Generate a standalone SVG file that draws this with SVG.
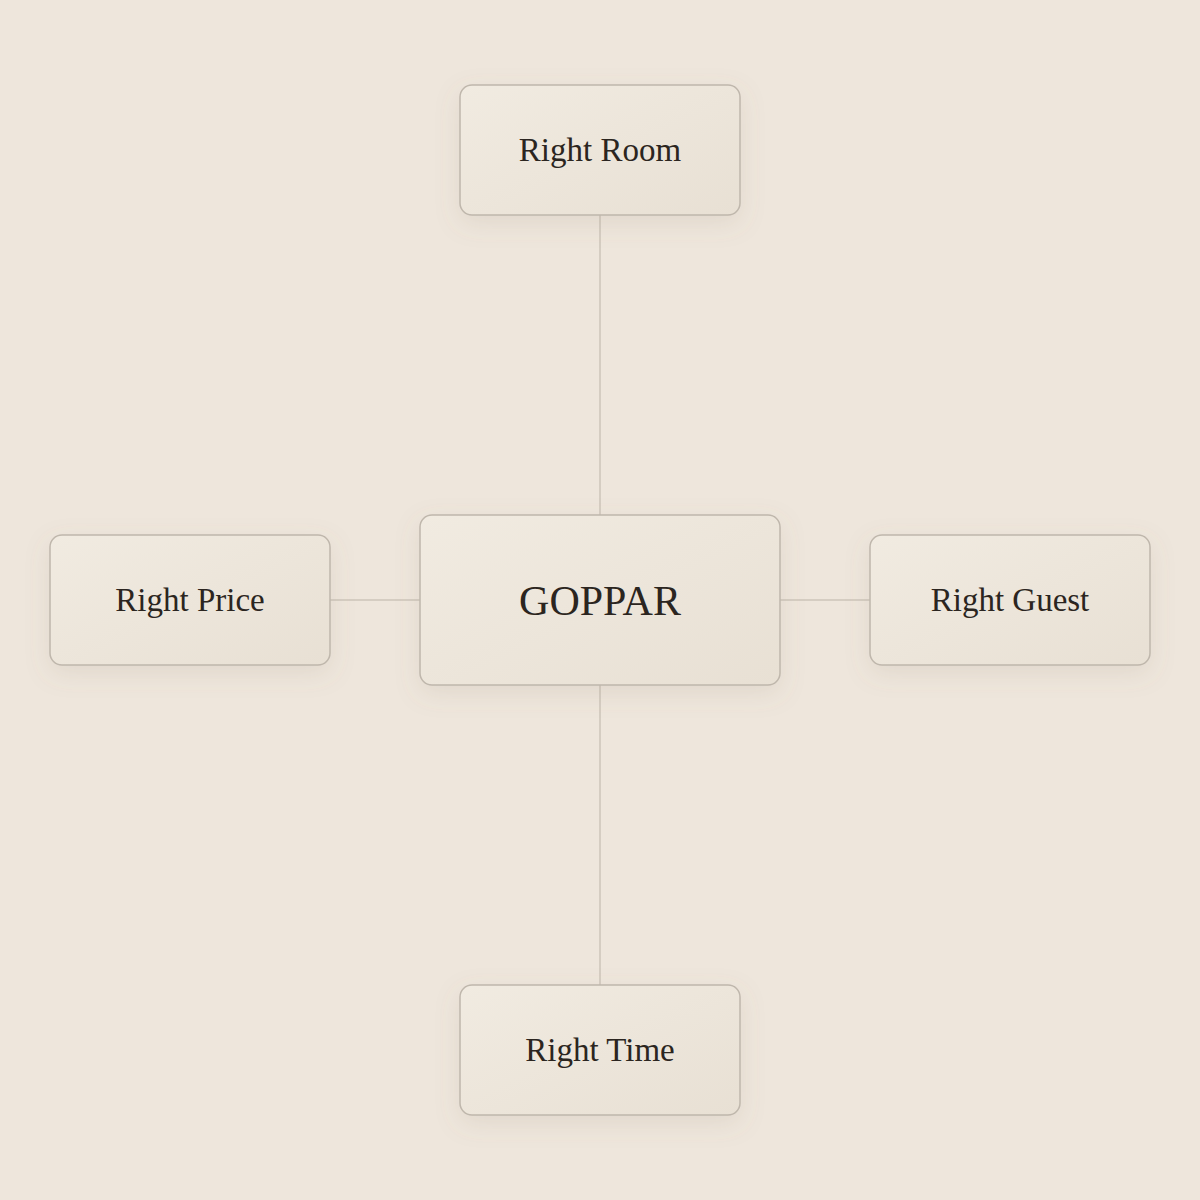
<svg xmlns="http://www.w3.org/2000/svg" width="1200" height="1200" viewBox="0 0 1200 1200">
<style>
.box{fill:url(#g);stroke:#BFB7AC;stroke-width:1.5;filter:url(#sh)}
.lbl{font-family:"Liberation Serif","DejaVu Serif",serif;font-size:33px;fill:#2B2520;text-anchor:middle}
.big{font-size:42px}
.conn line{stroke:#CDC5BA;stroke-width:1.5}
</style>
<defs>
<linearGradient id="g" x1="0" y1="0" x2="1" y2="1">
<stop offset="0" stop-color="#F1EBE1"/>
<stop offset="1" stop-color="#E8E0D4"/>
</linearGradient>
<filter id="sh" x="-25%" y="-40%" width="150%" height="180%">
<feDropShadow dx="0" dy="8" stdDeviation="12" flood-color="#8A7A66" flood-opacity="0.13"/>
</filter>
</defs>
<rect width="1200" height="1200" fill="#EEE6DC"/>
<g class="conn">
<line x1="600" y1="215" x2="600" y2="515"/>
<line x1="600" y1="685" x2="600" y2="985"/>
<line x1="330" y1="600" x2="420" y2="600"/>
<line x1="780" y1="600" x2="870" y2="600"/>
</g>
<g id="room"><rect class="box" x="460" y="85" width="280" height="130" rx="12"/><text class="lbl" x="600" y="161">Right Room</text></g>
<g id="goppar"><rect class="box" x="420" y="515" width="360" height="170" rx="12"/><text class="lbl big" x="600" y="615">GOPPAR</text></g>
<g id="price"><rect class="box" x="50" y="535" width="280" height="130" rx="12"/><text class="lbl" x="190" y="611">Right Price</text></g>
<g id="guest"><rect class="box" x="870" y="535" width="280" height="130" rx="12"/><text class="lbl" x="1010" y="611">Right Guest</text></g>
<g id="time"><rect class="box" x="460" y="985" width="280" height="130" rx="12"/><text class="lbl" x="600" y="1061">Right Time</text></g>
</svg>
